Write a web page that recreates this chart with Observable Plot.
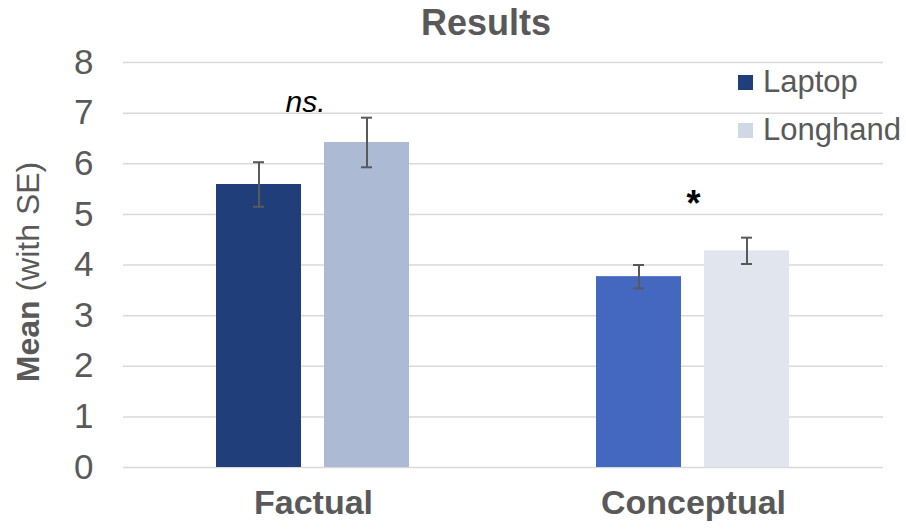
<!DOCTYPE html>
<html><head><meta charset="utf-8">
<script src="https://cdn.jsdelivr.net/npm/d3@7"></script>
<script src="https://cdn.jsdelivr.net/npm/@observablehq/plot@0.6"></script>
<style>
body{margin:0;background:#fff;}
#wrap{position:relative;width:906px;height:529px;font-family:"Liberation Sans",Arial,sans-serif;color:#595959;}
#wrap svg{position:absolute;left:0;top:0;}
.title{position:absolute;left:486px;top:23px;transform:translate(-50%,-50%);font-size:36px;font-weight:bold;white-space:nowrap;}
.ylab{position:absolute;left:28px;top:272px;transform:translate(-50%,-50%) rotate(-90deg);font-size:32px;white-space:nowrap;}
.ylab b{font-weight:bold;}
.legend{position:absolute;left:738px;top:58px;font-size:31px;}
.legend div{display:flex;align-items:center;height:48px;}
.legend span.sw{display:inline-block;width:15px;height:15px;margin-right:10px;}
</style></head><body><div id="wrap"></div>
<script>
const groups = ["Factual", "Conceptual"];
const series = ["Laptop", "Longhand"];
const laptopMean = [5.59, 3.77];
const longhandMean = [6.42, 4.28];
const laptopSE = [0.44, 0.23];
const longhandSE = [0.49, 0.26];
const laptopColors = ["#203f7a", "#4468bf"];
const longhandColors = ["#adbad3", "#e0e5ee"];
const legendColors = ["#203f7a", "#d0d7e5"];
const notes = ["ns.", "*"];
const noteY = [7.21, 5.2];
const yTicks = [0, 1, 2, 3, 4, 5, 6, 7, 8];

const rows = groups.flatMap((g, i) => [
  {group: g, series: series[0], mean: laptopMean[i], se: laptopSE[i], color: laptopColors[i]},
  {group: g, series: series[1], mean: longhandMean[i], se: longhandSE[i], color: longhandColors[i]}
]);
rows.forEach(d => { d.lo = d.mean - d.se; d.hi = d.mean + d.se; });
const noteRows = groups.map((g, i) => ({group: g, text: notes[i], y: noteY[i], italic: i === 0}));

const chart = Plot.plot({
  width: 906, height: 529,
  marginLeft: 123, marginRight: 23, marginTop: 62, marginBottom: 62,
  style: {fontFamily: '"Liberation Sans", Arial, sans-serif', color: "#595959", background: "transparent"},
  fx: {domain: groups, padding: 0, label: null},
  x: {domain: series, paddingInner: 0.211, paddingOuter: 0.849, axis: null},
  y: {domain: [0, 8]},
  color: {type: "identity"},
  marks: [
    Plot.ruleY(yTicks, {stroke: "#d9d9d9", strokeWidth: 1.5}),
    Plot.barY(rows, {fx: "group", x: "series", y: "mean", fill: "color"}),
    Plot.ruleX(rows, {fx: "group", x: "series", y1: "lo", y2: "hi", stroke: "#595959", strokeWidth: 2}),
    Plot.tickY(rows, {fx: "group", x: "series", y: "lo", stroke: "#595959", strokeWidth: 2, insetLeft: 37, insetRight: 37}),
    Plot.tickY(rows, {fx: "group", x: "series", y: "hi", stroke: "#595959", strokeWidth: 2, insetLeft: 37, insetRight: 37}),
    Plot.text(noteRows.filter(d => d.italic), {fx: "group", y: "y", text: "text", fontSize: 30, fontStyle: "italic", fill: "#000", dx: -8}),
    Plot.text(noteRows.filter(d => !d.italic), {fx: "group", y: "y", text: "text", fontSize: 36, fontWeight: "bold", fill: "#000"}),
    Plot.axisY(yTicks, {tickSize: 0, tickPadding: 30, fontSize: 35, label: null, tickFormat: d => String(d)}),
    Plot.axisFx({anchor: "bottom", tickSize: 0, tickPadding: 22, fontSize: 34, fontWeight: "bold", label: null})
  ]
});

const wrap = document.getElementById("wrap");
wrap.appendChild(chart);
const t = document.createElement("div"); t.className = "title"; t.textContent = "Results"; wrap.appendChild(t);
const yl = document.createElement("div"); yl.className = "ylab"; yl.innerHTML = "<b>Mean</b> (with SE)"; wrap.appendChild(yl);
const lg = document.createElement("div"); lg.className = "legend";
series.forEach((s, i) => {
  const row = document.createElement("div");
  const sw = document.createElement("span"); sw.className = "sw"; sw.style.background = legendColors[i];
  row.appendChild(sw); row.appendChild(document.createTextNode(s));
  lg.appendChild(row);
});
wrap.appendChild(lg);
</script></body></html>
